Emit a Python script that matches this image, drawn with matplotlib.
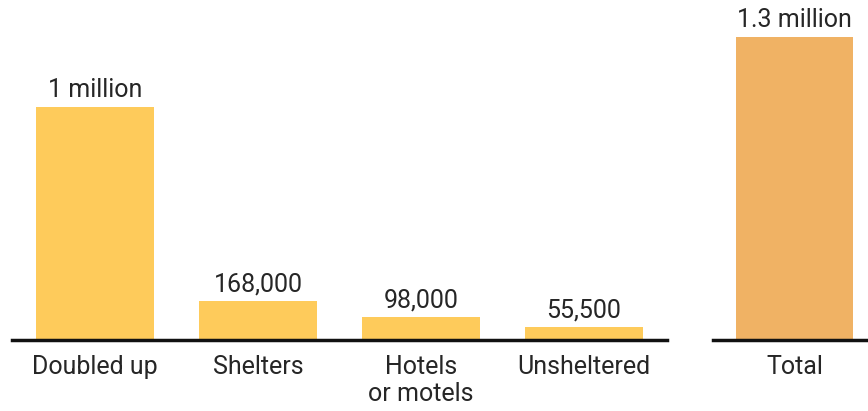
import matplotlib.pyplot as plt

categories = ['Doubled up', 'Shelters', 'Hotels\nor motels', 'Unsheltered']
values = [1000000, 168000, 98000, 55500]
value_labels = ['1 million', '168,000', '98,000', '55,500']

total_label = 'Total'
total_value = 1300000
total_text = '1.3 million'

plt.rcParams['font.family'] = ['Roboto', 'DejaVu Sans']

fig = plt.figure(figsize=(8.68, 4.11), dpi=100)
W, H = 868, 411
base = 71  # baseline in px from bottom
ymax = (H - base) / 233 * 1e6

ax1 = fig.add_axes([12 / W, base / H, (667 - 12) / W, (H - base) / H])
ax2 = fig.add_axes([713 / W, base / H, (868 - 713) / W, (H - base) / H])

yellow = '#FECB5B'
orange = '#F0B264'
txt = '#262626'

x = list(range(len(categories)))
ax1.bar(x, values, width=0.72, color=yellow)
for xi, v, t in zip(x, values, value_labels):
    ax1.text(xi, v + 20000, t, ha='center', va='bottom', fontsize=18, color=txt)
ax1.set_xlim(-0.51, 3.51)
ax1.set_ylim(0, ymax)

ax2.bar([0], [total_value], width=0.72, color=orange)
ax2.text(0, total_value + 20000, total_text, ha='center', va='bottom', fontsize=18, color=txt)
ax2.set_xlim(-0.5, 0.45)
ax2.set_ylim(0, ymax)

for ax, labels, xs in [(ax1, categories, x), (ax2, [total_label], [0])]:
    for s in ['top', 'right', 'left']:
        ax.spines[s].set_visible(False)
    ax.spines['bottom'].set_linewidth(2.5)
    ax.spines['bottom'].set_color('#111111')
    ax.set_yticks([])
    ax.set_xticks(xs)
    ax.set_xticklabels(labels, fontsize=18, color=txt, linespacing=1.15)
    ax.tick_params(axis='x', length=0, pad=11)
    ax.set_facecolor('none')

fig.savefig('out.png', dpi=100)
